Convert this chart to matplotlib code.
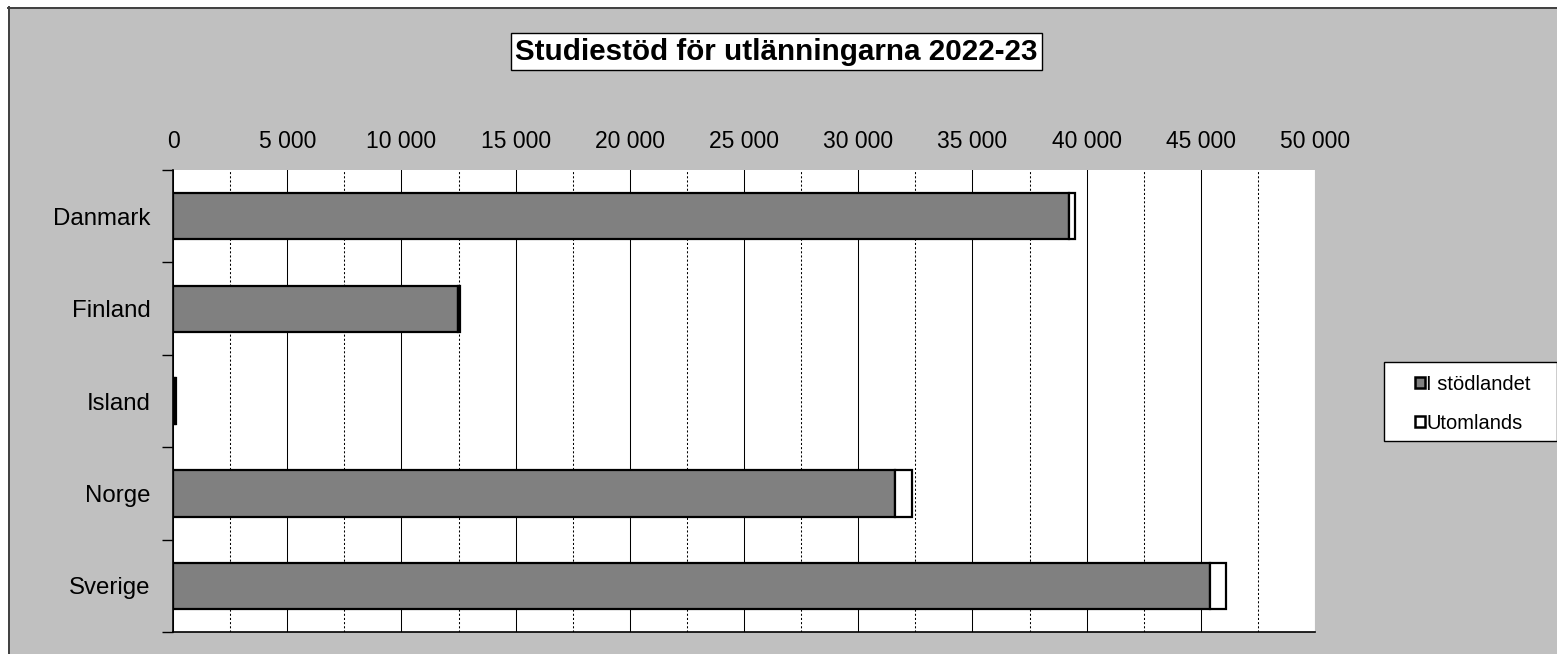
import matplotlib
matplotlib.use("Agg")
import matplotlib.pyplot as plt
from matplotlib.patches import Rectangle, Patch
from matplotlib.lines import Line2D
from matplotlib.ticker import FixedLocator, NullFormatter

plt.rcParams['font.family'] = ['Liberation Sans', 'DejaVu Sans']

countries = ["Danmark", "Finland", "Island", "Norge", "Sverige"]
i_stodlandet = [39230, 12460, 90, 31610, 45420]
utomlands = [250, 110, 60, 745, 680]
xtick_values = [0, 5000, 10000, 15000, 20000, 25000, 30000, 35000, 40000, 45000, 50000]
xtick_labels = ["0", "5 000", "10 000", "15 000", "20 000", "25 000", "30 000",
                "35 000", "40 000", "45 000", "50 000"]
title = "Studiestöd för utlänningarna 2022-23"
legend_labels = ["I stödlandet", "Utomlands"]

W, H = 1557, 654
fig = plt.figure(figsize=(W / 100, H / 100), dpi=100, facecolor="white")

# outer chart area
fig.patches.append(Rectangle((8 / W, 0), 1 - 8 / W, 1 - 7 / H, transform=fig.transFigure,
                             facecolor="#c0c0c0", edgecolor="none", zorder=-5))
fig.lines.append(Line2D([8 / W, 1], [1 - 7.5 / H, 1 - 7.5 / H], transform=fig.transFigure,
                        color="#404040", lw=1.4, zorder=-4))
fig.lines.append(Line2D([8.5 / W, 8.5 / W], [0, 1 - 7 / H], transform=fig.transFigure,
                        color="#404040", lw=1.4, zorder=-4))

ax = fig.add_axes([173 / W, 1 - 632 / H, (1315 - 173) / W, (632 - 170) / H])
ax.set_facecolor("white")
ax.set_zorder(1)

y = list(range(len(countries)))
ax.barh(y, i_stodlandet, height=0.5, color="#808080", edgecolor="black", linewidth=1.6,
        zorder=3, label=legend_labels[0])
ax.barh(y, utomlands, left=i_stodlandet, height=0.5, color="white", edgecolor="black",
        linewidth=1.6, zorder=3, label=legend_labels[1])

ax.set_xlim(0, 50000)
ax.set_ylim(-0.5, len(countries) - 0.5)
ax.invert_yaxis()

ax.xaxis.tick_top()
ax.set_xticks(xtick_values)
ax.set_xticklabels(xtick_labels, fontsize=16.5)
ax.tick_params(axis="x", which="both", length=0, pad=12)
ax.xaxis.set_minor_locator(FixedLocator([v + 2500 for v in xtick_values[:-1]]))

ax.set_yticks(y)
ax.set_yticklabels(countries, fontsize=17.3)
ax.tick_params(axis="y", which="major", length=0, pad=16)
ax.yaxis.set_minor_locator(FixedLocator([i - 0.5 for i in range(len(countries) + 1)]))
ax.yaxis.set_minor_formatter(NullFormatter())
ax.tick_params(axis="y", which="minor", length=8, width=1, color="black", direction="out")

ax.grid(axis="x", which="major", color="black", linewidth=0.75, linestyle="-", zorder=1)
ax.grid(axis="x", which="minor", color="black", linewidth=0.75, linestyle=(0, (2, 2)), zorder=1)
ax.set_axisbelow(True)

for s in ["top", "right"]:
    ax.spines[s].set_visible(False)
ax.spines["left"].set_linewidth(1.2)
ax.spines["bottom"].set_linewidth(1.2)

# title
fig.text(776.5 / W, 1 - 51.5 / H, title, fontsize=21.3, fontweight="bold",
         ha="center", va="center", zorder=5,
         bbox=dict(boxstyle="square,pad=0.16", facecolor="white", edgecolor="black", linewidth=1))

# legend box
fig.patches.append(Rectangle((1384 / W, 1 - 441 / H), (W - 1384) / W, (441 - 362) / H,
                             transform=fig.transFigure, facecolor="white",
                             edgecolor="black", linewidth=1, zorder=2))
handles = [Patch(facecolor="#808080", edgecolor="black", linewidth=1.8),
           Patch(facecolor="white", edgecolor="black", linewidth=1.8)]
leg = fig.legend(handles, legend_labels, loc="upper left",
                 bbox_to_anchor=(1415 / W, 1 - 375 / H), frameon=False, fontsize=14.5,
                 handlelength=0.48, handleheight=0.48, handletextpad=0.08,
                 labelspacing=0.98, borderpad=0, borderaxespad=0)
leg.set_zorder(3)

fig.savefig("out.png", dpi=100, facecolor=fig.get_facecolor())
